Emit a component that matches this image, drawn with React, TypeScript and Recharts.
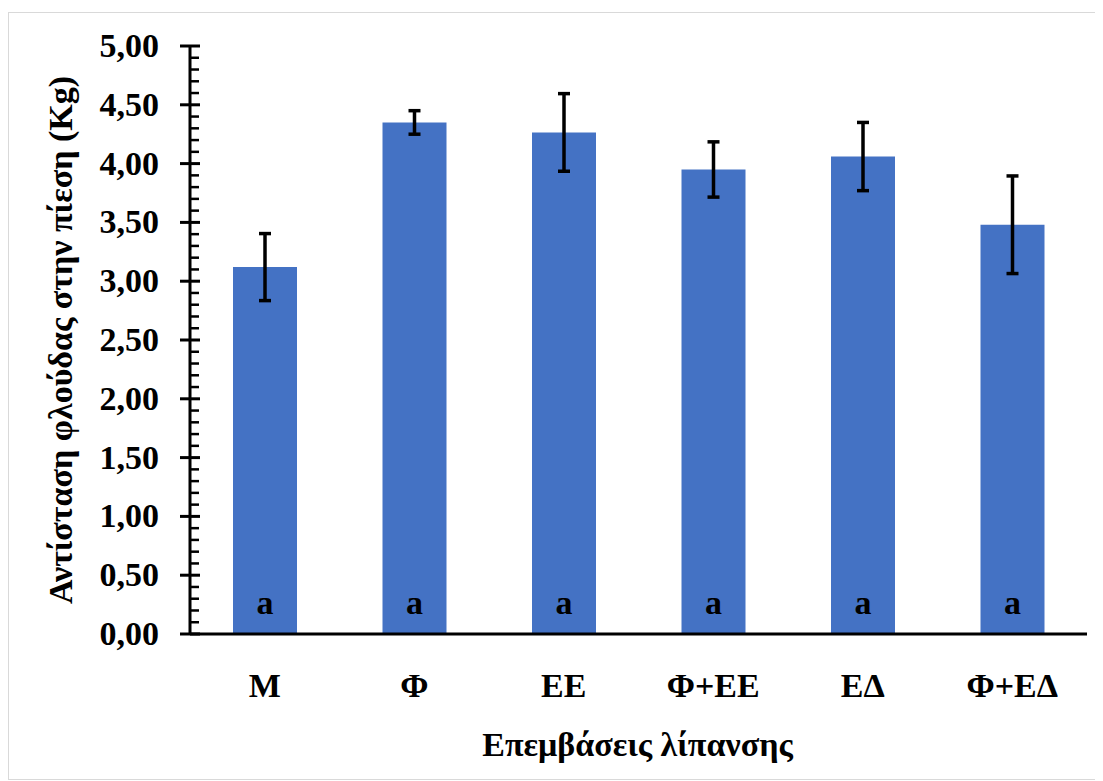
import React from 'react';
import { BarChart, Bar, XAxis, YAxis, ErrorBar, LabelList, Label } from 'recharts';

const categories = ['Μ', 'Φ', 'ΕΕ', 'Φ+ΕΕ', 'ΕΔ', 'Φ+ΕΔ'];
const means = [3.12, 4.35, 4.265, 3.95, 4.06, 3.48];
const errors = [0.285, 0.1, 0.33, 0.235, 0.29, 0.415];
const letters = ['a', 'a', 'a', 'a', 'a', 'a'];
const majorTicks = [0, 0.5, 1, 1.5, 2, 2.5, 3, 3.5, 4, 4.5, 5];
const minorStep = 0.1;

const allTicks: number[] = [];
for (let i = 0; i <= Math.round(5 / minorStep); i++) allTicks.push(Math.round(i * minorStep * 10) / 10);

const data = categories.map((c, i) => ({ name: c, value: means[i], err: errors[i], letter: letters[i] }));

const FS = 34;
const textStyle: React.CSSProperties = {
  fontFamily: "'Liberation Serif', 'Times New Roman', Times, serif",
  fontSize: FS,
  fontWeight: 700,
};

const isMajor = (v: number) => majorTicks.some((m) => Math.abs(m - v) < 1e-6);

const YTick = (props: any) => {
  const { x, y, payload } = props;
  const v = payload.value as number;
  if (isMajor(v)) {
    return (
      <g>
        <line x1={x - 10} x2={x + 10} y1={y} y2={y} stroke="#000" strokeWidth={3} />
        <text x={x - 31} y={y} dy={11} textAnchor="end" style={textStyle} fill="#000">
          {v.toFixed(2).replace('.', ',')}
        </text>
      </g>
    );
  }
  return <line x1={x} x2={x + 9} y1={y} y2={y} stroke="#000" strokeWidth={2.5} />;
};

const XTick = (props: any) => {
  const { x, y, payload } = props;
  return (
    <text x={x} y={y + 63} textAnchor="middle" style={textStyle} fill="#000">
      {payload.value}
    </text>
  );
};

const LetterLabel = (props: any) => {
  const { x, y, width, height, value } = props;
  return (
    <text x={x + width / 2} y={y + height - 20} textAnchor="middle" style={textStyle} fill="#000">
      {value}
    </text>
  );
};

const YTitle = (props: any) => {
  const vb = props.viewBox;
  const cx = vb.x + 63;
  const cy = vb.y + vb.height / 2;
  return (
    <text x={cx} y={cy} transform={`rotate(-90, ${cx}, ${cy})`} textAnchor="middle" style={textStyle} fill="#000">
      Αντίσταση φλούδας στην πίεση (Kg)
    </text>
  );
};

const XTitle = (props: any) => {
  const vb = props.viewBox;
  return (
    <text x={vb.x + vb.width / 2 - 1} y={vb.y + 122} textAnchor="middle" style={textStyle} fill="#000">
      Επεμβάσεις λίπανσης
    </text>
  );
};

export default function App() {
  return (
    <div style={{ paddingTop: 4 }}>
      <div style={{ width: 1086, height: 766, border: '1px solid #d9d9d9', background: '#fff' }}>
        <BarChart width={1086} height={766} data={data} margin={{ top: 33, right: 8, left: 0, bottom: 0 }}>
          <XAxis
            dataKey="name"
            height={145}
            axisLine={{ stroke: '#000', strokeWidth: 3 }}
            tickLine={false}
            tickSize={0}
            tickMargin={0}
            interval={0}
            tick={<XTick />}
          >
            <Label content={<XTitle />} />
          </XAxis>
          <YAxis
            width={181}
            domain={[0, 5]}
            ticks={allTicks}
            interval={0}
            axisLine={{ stroke: '#000', strokeWidth: 3 }}
            tickLine={false}
            tickSize={0}
            tickMargin={0}
            tick={<YTick />}
          >
            <Label content={<YTitle />} />
          </YAxis>
          <Bar dataKey="value" fill="#4472C4" barSize={64} isAnimationActive={false}>
            <ErrorBar dataKey="err" width={6} stroke="#000" strokeWidth={3.5} isAnimationActive={false} />
            <LabelList dataKey="letter" content={<LetterLabel />} />
          </Bar>
        </BarChart>
      </div>
    </div>
  );
}
